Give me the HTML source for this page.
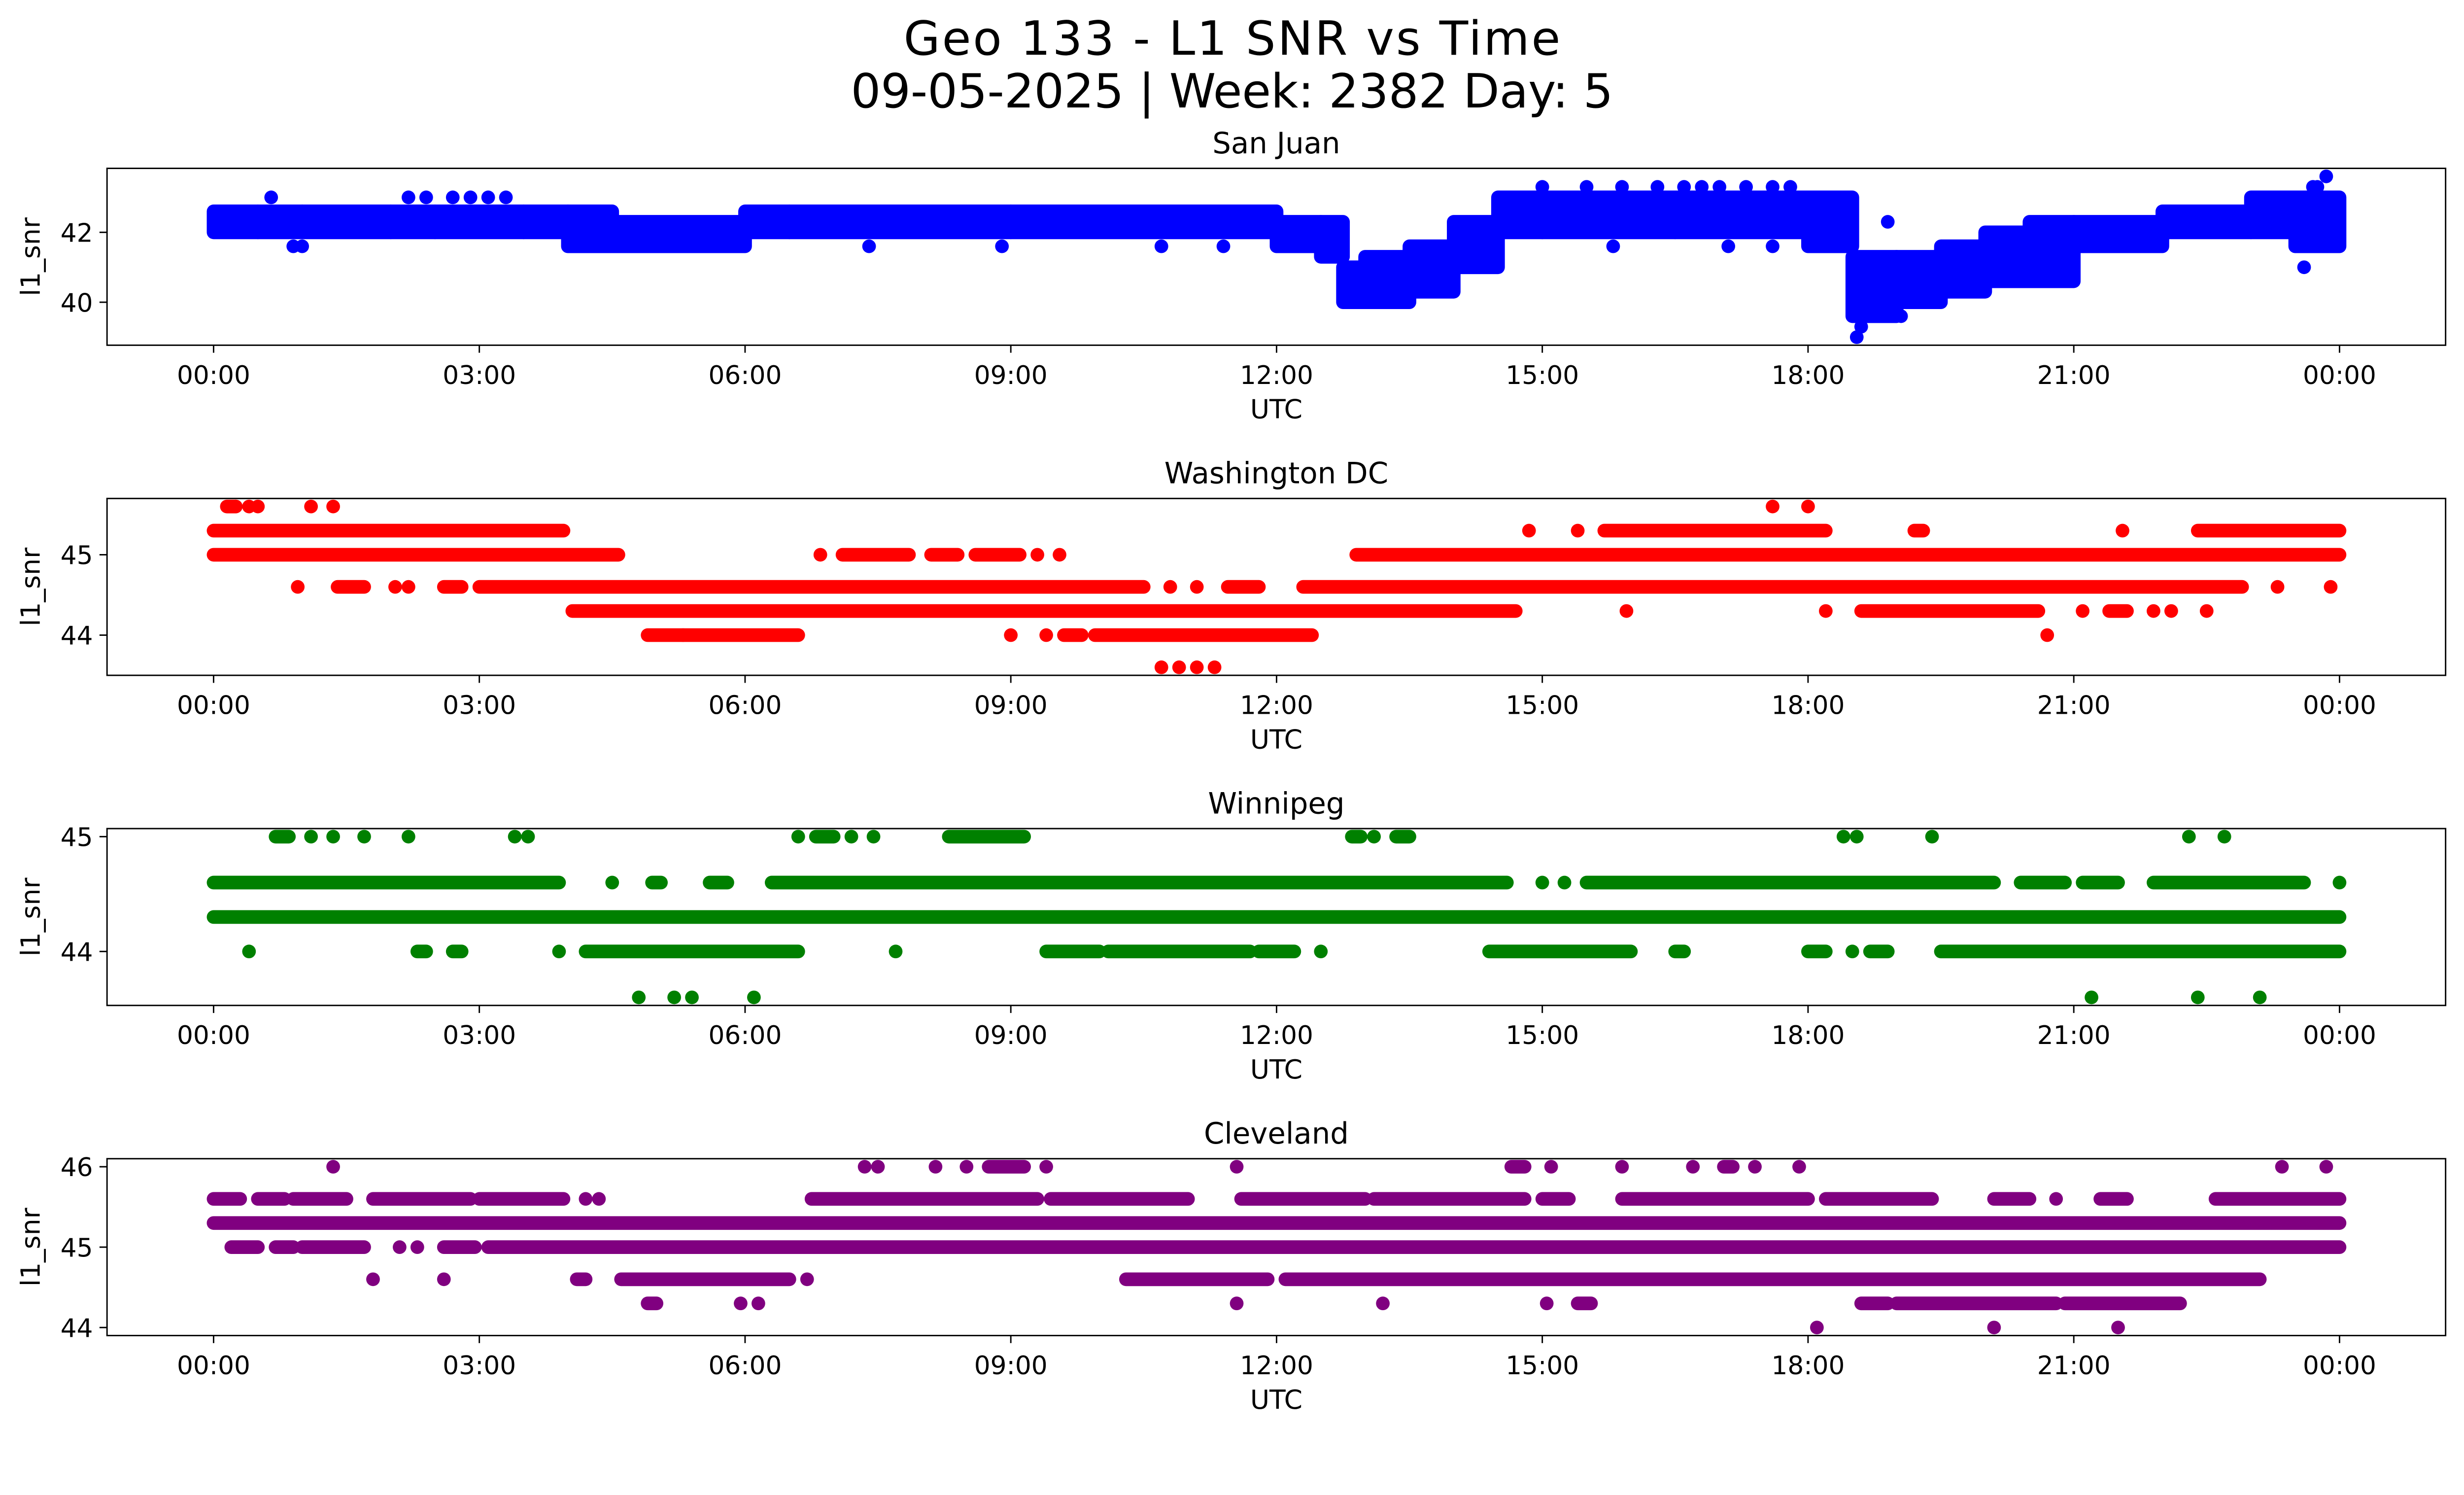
<!DOCTYPE html>
<html><head><meta charset="utf-8"><style>
html,body{margin:0;padding:0;background:#fff;overflow:hidden}
svg{display:block;width:100vw;height:auto}
text{font-family:"DejaVu Sans","Liberation Sans",sans-serif;fill:#000}
</style></head><body>
<svg id="fig" viewBox="0 0 5226 3033" xmlns="http://www.w3.org/2000/svg">
<rect width="5226" height="3033" fill="#fff"/>
<text x="2613" y="116" font-size="100" text-anchor="middle" textLength="1393">Geo 133 - L1 SNR vs Time</text>
<text x="2613" y="228" font-size="100" text-anchor="middle" textLength="1617">09-05-2025 | Week: 2382 Day: 5</text>
</svg>
<script>
// ---- shared axis data ----
const xTickHours = [0, 3, 6, 9, 12, 15, 18, 21, 24];
const xTickLabels = ["00:00","03:00","06:00","09:00","12:00","15:00","18:00","21:00","00:00"];

// ---- San Juan (binned band: start hour, end hour, low value, high value) ----
const sjStart = [0,0.5,1,2,2.5,3.5,4,4.5,6,6.5,9,12,12.5,12.75,13,13.5,14,14.5,15,16.5,18,18.5,19,19.5,20,20.5,21,22,23,23.5];
const sjEnd   = [0.5,1,2,2.5,3.5,4,4.5,6,6.5,9,12,12.5,12.75,13,13.5,14,14.5,15,16.5,18,18.5,19,19.5,20,20.5,21,22,23,23.5,24];
const sjLo    = [42.0,42.0,42.0,42.0,42.0,42.0,41.6,41.6,42.0,42.0,42.0,41.6,41.3,40.0,40.0,40.3,41.0,42.0,42.0,42.0,41.6,39.6,40.0,40.3,40.6,40.6,41.6,42.0,42.0,41.6];
const sjHi    = [42.6,42.6,42.6,42.6,42.6,42.6,42.6,42.3,42.6,42.6,42.6,42.3,42.3,41.0,41.3,41.6,42.3,43.0,43.0,43.0,43.0,41.3,41.3,41.6,42.0,42.3,42.3,42.6,43.0,43.0];
const sjPtT   = [0.65,0.9,1.0,2.2,2.4,2.7,2.9,3.1,3.3,7.4,8.9,10.7,11.4,15.8,17.1,17.6,18.55,18.6,18.9,19.05,23.6,23.85,15.0,15.5,15.9,16.3,16.6,16.8,17.0,17.3,17.6,17.8,23.7,23.75];
const sjPtV   = [43.0,41.6,41.6,43.0,43.0,43.0,43.0,43.0,43.0,41.6,41.6,41.6,41.6,41.6,41.6,41.6,39.0,39.3,42.3,39.6,41.0,43.6,43.3,43.3,43.3,43.3,43.3,43.3,43.3,43.3,43.3,43.3,43.3,43.3];

// ---- Washington DC (runs: level, start hour, end hour) ----
const dcLevel = [45.3,45.6,45.6,45.6,45.6,45.6,45.6,45.6,45.6,45.0,45.0,45.0,45.0,45.0,45.0,45.0,45.0,44.6,44.6,44.6,44.6,44.6,44.6,44.6,44.6,44.6,44.6,44.6,44.6,44.3,44.3,44.3,44.3,44.3,44.3,44.3,44.3,44.3,44.0,44.0,44.0,44.0,44.0,44.0,44.0,43.6,43.6,43.6,43.6,45.3,45.3,45.3,45.3,45.3,45.3];
const dcStart = [0,0.15,0.4,0.5,1.1,1.35,17.6,18.0,0.25,0,6.85,7.1,8.1,8.6,9.3,9.55,12.9,0.95,1.4,2.05,2.2,2.6,3.0,10.8,11.1,11.45,12.3,23.3,23.9,4.05,15.95,18.2,18.6,21.1,21.4,21.9,22.1,22.5,4.9,5.3,9.0,9.4,9.6,9.95,20.7,10.7,10.9,11.1,11.3,14.85,15.4,15.7,19.2,21.55,22.4];
const dcEnd   = [3.95,0.25,0.4,0.5,1.1,1.35,17.6,18.0,0.25,4.57,6.85,7.85,8.4,9.1,9.3,9.55,24,0.95,1.7,2.05,2.2,2.8,10.5,10.8,11.1,11.8,22.9,23.3,23.9,14.7,15.95,18.2,20.6,21.1,21.6,21.9,22.1,22.5,5.3,6.6,9.0,9.4,9.8,12.4,20.7,10.7,10.9,11.1,11.3,14.85,15.4,18.2,19.3,21.55,24];

// ---- Winnipeg (runs) ----
const wpLevel = [44.6,44.6,44.6,44.6,44.6,44.6,44.6,44.6,44.6,44.6,44.6,44.6,44.3,44.0,44.0,44.0,44.0,44.0,44.0,44.0,44.0,44.0,44.0,44.0,44.0,44.0,44.0,44.0,44.0,45.0,45.0,45.0,45.0,45.0,45.0,45.0,45.0,45.0,45.0,45.0,45.0,45.0,45.0,45.0,45.0,45.0,45.0,45.0,45.0,43.6,43.6,43.6,43.6,43.6,43.6,43.6];
const wpStart = [0,4.5,4.95,5.6,6.3,15.0,15.25,15.5,20.4,21.1,21.9,24.0,0,0.4,2.3,2.7,3.9,4.2,7.7,9.4,10.1,11.8,12.5,14.4,16.5,18.0,18.5,18.7,19.5,0.7,1.1,1.35,1.7,2.2,3.4,3.55,6.6,6.8,7.2,7.45,8.3,12.85,13.1,13.35,18.4,18.55,19.4,22.3,22.7,4.8,5.2,5.4,6.1,21.2,22.4,23.1];
const wpEnd   = [3.9,4.5,5.05,5.8,14.6,15.0,15.25,20.1,20.9,21.5,23.6,24.0,24,0.4,2.4,2.8,3.9,6.6,7.7,10.0,11.7,12.2,12.5,16.0,16.6,18.2,18.5,18.9,24,0.85,1.1,1.35,1.7,2.2,3.4,3.55,6.6,7.0,7.2,7.45,9.15,12.95,13.1,13.5,18.4,18.55,19.4,22.3,22.7,4.8,5.2,5.4,6.1,21.2,22.4,23.1];

// ---- Cleveland (runs) ----
const clLevel = [45.3,45.6,45.6,45.6,45.6,45.6,45.6,45.6,45.6,45.6,45.6,45.6,45.6,45.6,45.6,45.6,45.6,45.6,45.6,45.0,45.0,45.0,45.0,45.0,45.0,45.0,44.6,44.6,44.6,44.6,44.6,44.6,44.6,44.3,44.3,44.3,44.3,44.3,44.3,44.3,44.3,44.3,44.3,44.0,44.0,44.0,46.0,46.0,46.0,46.0,46.0,46.0,46.0,46.0,46.0,46.0,46.0,46.0,46.0,46.0,46.0,46.0,46.0];
const clStart = [0,0,0.5,0.9,1.8,3.0,4.2,4.35,6.75,9.45,11.6,13.1,15.0,15.9,18.2,20.1,20.8,21.3,22.6,0.2,0.7,1.0,2.1,2.3,2.6,3.1,1.8,2.6,4.1,4.6,6.7,10.3,12.1,4.9,5.95,6.15,11.55,13.2,15.05,15.4,18.6,19.0,20.9,18.1,20.1,21.5,1.35,7.35,7.5,8.15,8.5,8.75,9.4,11.55,14.65,15.1,15.9,16.7,17.05,17.4,17.9,23.35,23.85];
const clEnd   = [24,0.3,0.8,1.5,2.9,3.95,4.2,4.35,9.3,11.0,13.0,14.8,15.3,18.0,19.4,20.5,20.8,21.6,24,0.5,0.9,1.7,2.1,2.3,2.95,24,1.8,2.6,4.2,6.5,6.7,11.9,23.1,5.0,5.95,6.15,11.55,13.2,15.05,15.55,18.9,20.8,22.2,18.1,20.1,21.5,1.35,7.35,7.5,8.15,8.5,9.15,9.4,11.55,14.8,15.1,15.9,16.7,17.15,17.4,17.9,23.35,23.85];

// ---- layout ----
const AX_L = 227, AX_R = 5187, AX_H = 375, R = 14.5;
const X0 = 453, X24 = 4962;
const NS = "http://www.w3.org/2000/svg";
const svg = document.getElementById("fig");
function xs(h){ return X0 + (X24 - X0) * h / 24; }
function mk(tag, attrs, parent){
  const e = document.createElementNS(NS, tag);
  for (const k in attrs) e.setAttribute(k, attrs[k]);
  (parent || svg).appendChild(e);
  return e;
}

function panel(top, title, ymin, ymax, yticks, color, key){
  const g = mk("g", {});
  
  
  const ys = v => top + AX_H - (v - ymin) / (ymax - ymin) * AX_H;
  const t = mk("text", {x: (AX_L + AX_R) / 2, y: top - 32, "font-size": 62, "text-anchor": "middle"}, g);
  t.textContent = title;
  
  
  const marks = mk("g", {fill: color}, g);
  
  
  const fr = mk("rect", {x: AX_L, y: top, width: AX_R - AX_L, height: AX_H, fill: "none", stroke: "#000", "stroke-width": 3}, g);
  
  
  xTickHours.forEach((h, i) => {
    const x = xs(h);
    const tk = mk("line", {x1: x, x2: x, y1: top + AX_H, y2: top + AX_H + 16, stroke: "#000", "stroke-width": 3}, g);
    
    
    const lb = mk("text", {x: x, y: top + AX_H + 82, "font-size": 54, "text-anchor": "middle"}, g);
    lb.textContent = xTickLabels[i];
    
    
  });
  const xl = mk("text", {x: (AX_L + AX_R) / 2, y: top + AX_H + 155, "font-size": 56, "text-anchor": "middle"}, g);
  xl.textContent = "UTC";
  
  
  yticks.forEach(v => {
    const y = ys(v);
    const tk = mk("line", {x1: AX_L - 16, x2: AX_L, y1: y, y2: y, stroke: "#000", "stroke-width": 3}, g);
    
    
    const lb = mk("text", {x: AX_L - 30, y: y + 20, "font-size": 54, "text-anchor": "end"}, g);
    lb.textContent = String(v);
    
    
  });
  const yl = mk("text", {x: 0, y: 0, "font-size": 56, "text-anchor": "middle", transform: "translate(84," + (top + AX_H / 2) + ") rotate(-90)"}, g);
  yl.textContent = "l1_snr";
  
  
  return {marks: marks, ys: ys};
}

function drawRuns(p, levels, starts, ends, key){
  for (let i = 0; i < levels.length; i++){
    const x1 = xs(starts[i]) - R, x2 = xs(ends[i]) + R, y = p.ys(levels[i]);
    const r = mk("rect", {x: x1, y: y - R, width: x2 - x1, height: 2 * R, rx: R, ry: R}, p.marks);
    
    
  }
}

const p1 = panel(357, "San Juan", 38.77, 43.83, [40, 42], "#0000ff", "san-juan");
for (let i = 0; i < sjStart.length; i++){
  const x1 = xs(sjStart[i]) - R, x2 = xs(sjEnd[i]) + R;
  const y1 = p1.ys(sjHi[i]) - R, y2 = p1.ys(sjLo[i]) + R;
  const r = mk("rect", {x: x1, y: y1, width: x2 - x1, height: y2 - y1, rx: R, ry: R}, p1.marks);
  
  
}
for (let i = 0; i < sjPtT.length; i++){
  const c = mk("circle", {cx: xs(sjPtT[i]), cy: p1.ys(sjPtV[i]), r: R}, p1.marks);
  
  
}

const p2 = panel(1057, "Washington DC", 43.5, 45.7, [44, 45], "#ff0000", "washington-dc");
drawRuns(p2, dcLevel, dcStart, dcEnd, "washington-dc");

const p3 = panel(1757, "Winnipeg", 43.53, 45.07, [44, 45], "#008000", "winnipeg");
drawRuns(p3, wpLevel, wpStart, wpEnd, "winnipeg");

const p4 = panel(2457, "Cleveland", 43.9, 46.1, [44, 45, 46], "#800080", "cleveland");
drawRuns(p4, clLevel, clStart, clEnd, "cleveland");
</script>
</body></html>
